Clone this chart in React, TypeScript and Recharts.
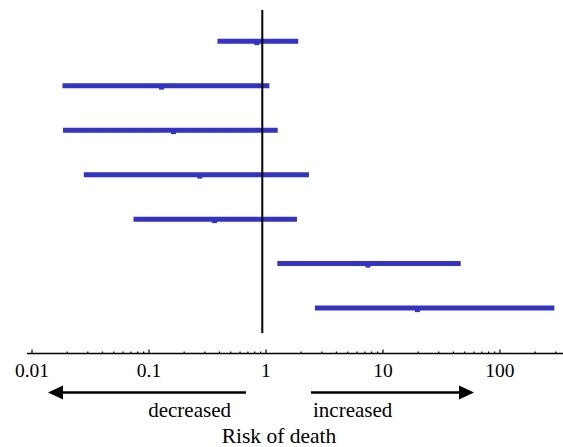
import { ScatterChart, Scatter, XAxis, YAxis, ErrorBar, ReferenceLine } from 'recharts'

// one row per study, top to bottom
const rows = [1, 2, 3, 4, 5, 6, 7]
const lows = [0.385, 0.0182, 0.0184, 0.0277, 0.0737, 1.25, 2.62]
const medians = [0.836, 0.128, 0.162, 0.272, 0.363, 7.44, 19.7]
const highs = [1.886, 1.07, 1.26, 2.33, 1.84, 46.2, 292]

const majorTicks = [0.01, 0.1, 1, 10, 100]
const majorLabels = ['0.01', '0.1', '1', '10', '100']
const minorSteps = [2, 3, 4, 5, 6, 7, 8, 9]
const minorTicks = [
  ...majorTicks.slice(0, 4).flatMap((d) => minorSteps.map((m) => +(m * d).toPrecision(3))),
  200,
  300,
]

const refValue = 0.93
const BLUE = '#3232cc'
const FONT = "'Liberation Serif', 'Times New Roman', Times, serif"
const textStyle = { fontFamily: FONT }

const data = rows.map((row, i) => ({
  row,
  med: medians[i],
  err: [medians[i] - lows[i], highs[i] - medians[i]],
}))

function Tick(props: any) {
  const { x, y, payload } = props
  const idx = majorTicks.indexOf(payload.value)
  const major = idx >= 0
  return (
    <g>
      <line x1={x} x2={x} y1={y} y2={y - (major ? 4 : 2)} stroke="#000" strokeWidth={1.2} />
      {major && (
        <text x={x} y={y + 23.5} textAnchor="middle" style={textStyle} fontSize={19.5} fill="#000">
          {majorLabels[idx]}
        </text>
      )}
    </g>
  )
}

function MedianMark(props: any) {
  const { cx, cy } = props
  return <rect x={cx - 2.5} y={cy} width={5} height={4} fill={BLUE} />
}

export default function App() {
  return (
    <div style={{ position: 'absolute', left: 0, top: 0, width: 563, height: 447, background: '#fff' }}>
      <ScatterChart width={563} height={447} margin={{ top: 10, right: 0, left: 27, bottom: 53.5 }}>
        <XAxis
          type="number"
          dataKey="med"
          scale="log"
          domain={[0.00906, 346]}
          allowDataOverflow
          ticks={[...majorTicks, ...minorTicks]}
          interval={0}
          tick={<Tick />}
          tickLine={false}
          tickSize={0}
          tickMargin={0}
          height={40}
          axisLine={{ stroke: '#000', strokeWidth: 1.5 }}
        />
        <YAxis type="number" dataKey="row" domain={[0.3, 8.02]} reversed hide allowDataOverflow />
        <Scatter data={data} fill={BLUE} shape={<MedianMark />} isAnimationActive={false}>
          <ErrorBar dataKey="err" direction="x" width={0} stroke={BLUE} strokeWidth={5} isAnimationActive={false} />
        </Scatter>
        <ReferenceLine
          segment={[
            { x: refValue, y: 0.3 },
            { x: refValue, y: 7.56 },
          ]}
          stroke="#000"
          strokeWidth={2}
        />
      </ScatterChart>
      <svg width={563} height={447} style={{ position: 'absolute', left: 0, top: 0, pointerEvents: 'none' }}>
        <line x1={246} x2={60} y1={392.5} y2={392.5} stroke="#000" strokeWidth={2.5} />
        <polygon points="48,392.5 63,385.5 63,399.5" fill="#000" />
        <line x1={311} x2={462} y1={392.5} y2={392.5} stroke="#000" strokeWidth={2.5} />
        <polygon points="474,392.5 459,385.5 459,399.5" fill="#000" />
        <text x={231} y={417} textAnchor="end" style={textStyle} fontSize={21} fill="#000">
          decreased
        </text>
        <text x={313} y={417} style={textStyle} fontSize={21} fill="#000">
          increased
        </text>
        <text x={279} y={443} textAnchor="middle" style={textStyle} fontSize={21.5} fill="#000">
          Risk of death
        </text>
      </svg>
    </div>
  )
}
